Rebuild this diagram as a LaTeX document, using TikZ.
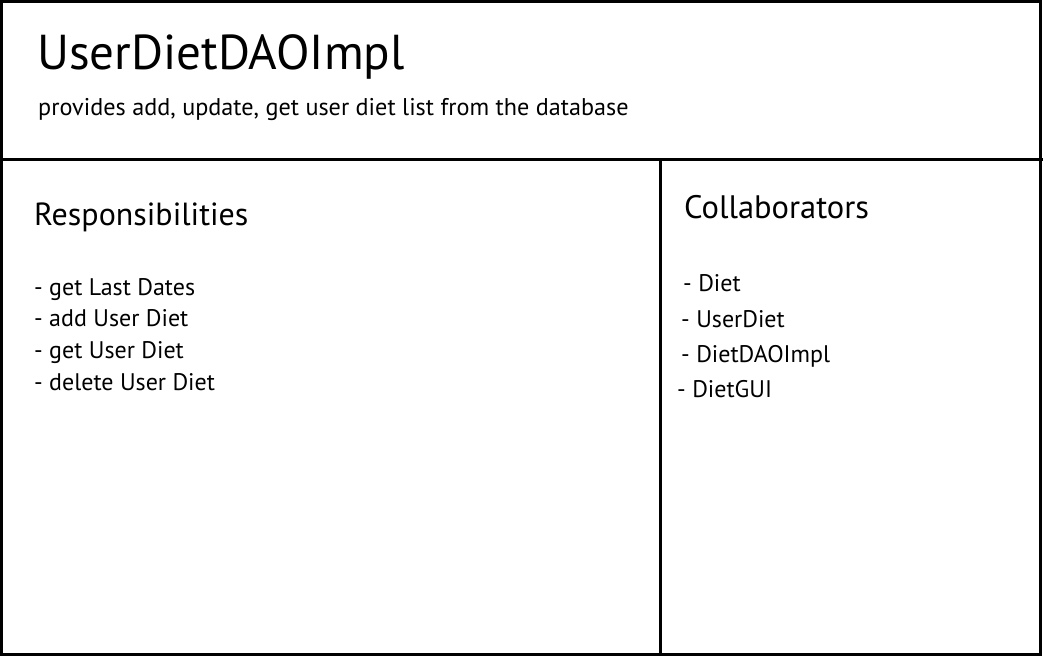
\documentclass[tikz,border=0pt]{standalone}
\usepackage{fontspec}
\setmainfont{PT Sans}
\begin{document}
\begin{tikzpicture}[x=1pt, y=-1pt,
    every node/.style={inner sep=0pt, anchor=base west},
    frame/.style={line width=3pt}]

    % Card border and dividers
    \useasboundingbox (0,0) rectangle (1043,656);
    \draw[frame] (1.5,1.5) rectangle (1040.5,654.5);
    \coordinate (Split-L) at (0,159.5);
    \coordinate (Split-R) at (1043,159.5);
    \coordinate (Split-T) at (660.5,159.5);
    \coordinate (Split-B) at (660.5,656);
    \draw[frame] (Split-L) -- (Split-R);
    \draw[frame] (Split-T) -- (Split-B);

    % Class name
    \node[font=\fontsize{49}{54}\selectfont] (Title) at (37,69) {UserDietDAOImpl};
    \node[font=\fontsize{24.2}{28}\selectfont] (Summary) at (38,115)
        {provides add, update, get user diet list from the database};

    % Responsibilities
    \node[font=\fontsize{32}{36}\selectfont] (Resp) at (34,225) {Responsibilities};
    \foreach \t [count=\i] in {get Last Dates, add User Diet, get User Diet, delete User Diet}
    {
    	\node[font=\fontsize{24}{28}\selectfont] (Resp-\i) at (34,263.5+31.7*\i) {- \t};
    }

    % Collaborators
    \node[font=\fontsize{32.5}{36}\selectfont] (Collab) at (684,218.5) {Collaborators};
    \foreach \t/\x/\y [count=\i] in {Diet/683/291, UserDiet/681/327, DietDAOImpl/681/362, DietGUI/677/397}
    {
    	\node[font=\fontsize{24}{28}\selectfont] (Collab-\i) at (\x,\y) {- \t};
    }
\end{tikzpicture}
\end{document}
